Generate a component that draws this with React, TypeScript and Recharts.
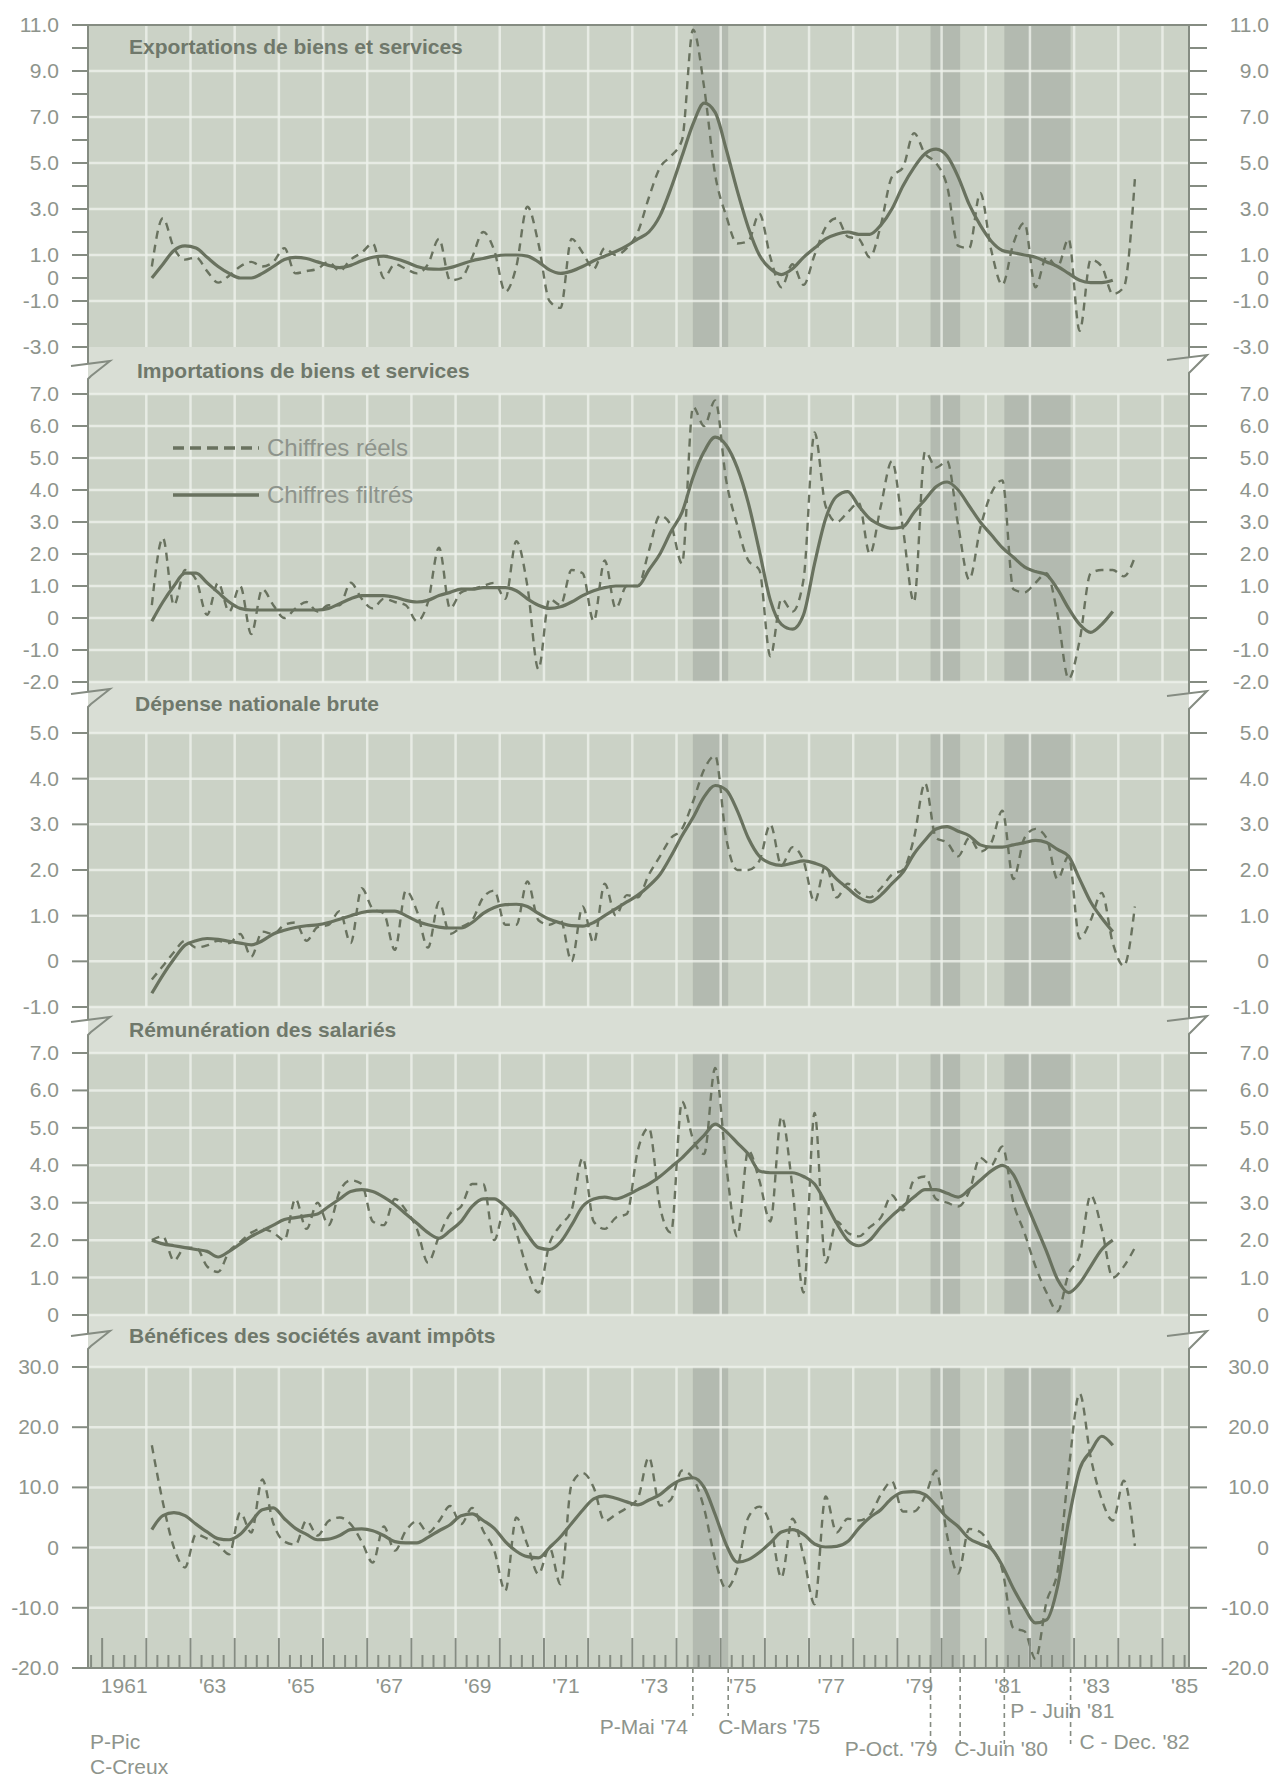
import React from "react";
import { LineChart, Line, XAxis, YAxis, ReferenceArea, ReferenceLine } from "recharts";

const FONT = "'Liberation Sans', Arial, Helvetica, sans-serif";
const INK = "#69725f";
const AXIS = "#858c82";
const LABEL = "#8e948c";
const TITLE = "#6f786b";
const PANEL_BG = "#cbd2c6";
const BAND_BG = "#d9ded5";
const GRID = "#eef1eb";
const SHADE = "#afb6ab";

const W = 1278;
const H = 1787;
const PLOT_L = 88;
const PLOT_R = 1189;
const X_MIN = 1960.68;
const X_MAX = 1985.6;
const FIRST_QUARTER = 1962.125;

// ---- series, one value per quarter from 1962 Q1 ----
const exportsReal = [
  0.5, 2.6, 1.3, 0.8, 0.9, 0.3, -0.2, 0.1, 0.5, 0.7,
  0.5, 0.7, 1.3, 0.2, 0.3, 0.4, 0.7, 0.3, 0.8, 1.1,
  1.5, 0.0, 0.6, 0.4, 0.2, 0.6, 1.7, -0.1, 0.0, 0.9,
  2.0, 1.2, -0.6, 0.5, 3.1, 1.5, -1.0, -1.3, 1.7, 1.1,
  0.4, 1.3, 1.0, 1.3, 2.0, 3.5, 4.8, 5.3, 6.0, 10.8,
  8.3, 4.5, 2.7, 1.5, 1.6, 2.8, 0.9, -0.4, 0.6, -0.3,
  1.0, 2.2, 2.6, 1.8, 1.7, 0.9, 2.3, 4.4, 4.8, 6.3,
  5.4, 5.0, 4.0, 1.4, 1.3, 3.7, 1.2, -0.3, 1.5, 2.4,
  -0.4, 0.9, 0.5, 1.7, -2.3, 0.8, 0.5, -0.7, -0.4, 4.3,
];
const exportsFilt = [
  0.0, 0.6, 1.2, 1.4, 1.3, 0.9, 0.5, 0.2, 0.0, 0.0,
  0.2, 0.5, 0.8, 0.9, 0.85, 0.7, 0.55, 0.45, 0.55, 0.75,
  0.9, 0.95, 0.85, 0.7, 0.5, 0.4, 0.38, 0.45, 0.6, 0.75,
  0.85, 0.95, 1.0, 1.0, 0.95, 0.7, 0.35, 0.2, 0.3, 0.5,
  0.75, 0.95, 1.15, 1.4, 1.7, 2.0, 2.7, 3.9, 5.3, 6.7,
  7.6, 7.2, 5.6, 3.8, 2.2, 1.0, 0.4, 0.15, 0.4, 0.9,
  1.3, 1.7, 1.9, 2.0, 1.9, 1.9, 2.3, 3.0, 4.0, 4.8,
  5.4, 5.6, 5.3, 4.4, 3.2, 2.3, 1.6, 1.2, 1.1, 1.0,
  0.9, 0.7, 0.5, 0.2, -0.1, -0.2, -0.2, -0.1,
];

const importsReal = [
  0.4, 2.5, 0.4, 1.5, 1.2, 0.1, 1.1, 0.2, 1.0, -0.5,
  0.9, 0.4, 0.0, 0.3, 0.5, 0.2, 0.4, 0.4, 1.1, 0.6,
  0.3, 0.6, 0.5, 0.4, -0.1, 0.5, 2.2, 0.3, 0.8, 0.9,
  1.0, 1.1, 0.6, 2.4, 1.0, -1.6, 0.6, 0.4, 1.5, 1.4,
  -0.1, 1.8, 0.3, 1.0, 1.0, 2.1, 3.2, 2.9, 1.7, 6.6,
  6.0, 6.8, 4.3, 2.9, 1.8, 1.5, -1.2, 0.6, 0.2, 1.2,
  5.8, 3.5, 3.0, 3.3, 3.6, 2.0, 3.5, 4.9, 2.8, 0.5,
  5.2, 4.7, 4.9, 2.9, 1.2, 2.8, 3.9, 4.3, 0.9, 0.8,
  1.1, 1.4, 0.1, -1.9, -0.7, 1.4, 1.5, 1.5, 1.3, 1.9,
];
const importsFilt = [
  -0.1, 0.5, 1.0, 1.4, 1.4, 1.1, 0.8, 0.5, 0.3, 0.25,
  0.25, 0.25, 0.25, 0.25, 0.25, 0.25, 0.3, 0.45, 0.6, 0.7,
  0.7, 0.7, 0.65, 0.55, 0.5, 0.55, 0.7, 0.8, 0.9, 0.9,
  0.95, 0.95, 0.95, 0.85, 0.6, 0.4, 0.3, 0.35, 0.5, 0.7,
  0.85, 0.95, 1.0, 1.0, 1.0, 1.5, 2.0, 2.7, 3.3, 4.4,
  5.2, 5.65, 5.4, 4.7, 3.6, 2.1, 0.55, -0.2, -0.35, 0.1,
  1.7, 3.1, 3.8, 3.95, 3.5, 3.1, 2.9, 2.8, 2.85, 3.3,
  3.7, 4.1, 4.25, 4.0, 3.5, 3.0, 2.6, 2.2, 1.9, 1.6,
  1.45, 1.35, 0.9, 0.3, -0.2, -0.45, -0.2, 0.2,
];

const dnbReal = [
  -0.4, -0.1, 0.2, 0.45, 0.3, 0.35, 0.45, 0.4, 0.6, 0.1,
  0.65, 0.6, 0.8, 0.85, 0.45, 0.75, 0.8, 1.1, 0.4, 1.6,
  1.15, 1.05, 0.25, 1.55, 1.1, 0.3, 1.3, 0.6, 0.75, 0.9,
  1.4, 1.55, 0.8, 0.8, 1.75, 0.9, 0.8, 0.9, 0.0, 1.2,
  0.4, 1.7, 1.0, 1.45, 1.4, 1.9, 2.3, 2.7, 2.9, 3.5,
  4.2, 4.5, 2.7, 2.0, 2.0, 2.2, 3.0, 2.1, 2.5, 2.2,
  1.3, 2.1, 1.4, 1.7, 1.5, 1.4, 1.6, 1.9, 2.0, 2.7,
  3.9, 2.7, 2.6, 2.3, 2.7, 2.4, 2.6, 3.3, 1.8, 2.7,
  2.9, 2.7, 1.8, 2.3, 0.5, 0.9, 1.5, 0.4, -0.1, 1.2,
];
const dnbFilt = [
  -0.7, -0.3, 0.05, 0.35, 0.45, 0.5, 0.48, 0.44, 0.4, 0.36,
  0.45, 0.6, 0.68, 0.74, 0.78, 0.8, 0.85, 0.92, 1.0, 1.07,
  1.1, 1.1, 1.1, 1.0, 0.88, 0.8, 0.75, 0.73, 0.73, 0.85,
  1.05, 1.18, 1.24, 1.25, 1.2, 1.05, 0.92, 0.84, 0.78, 0.77,
  0.85, 1.0, 1.15, 1.3, 1.45, 1.65, 1.9, 2.3, 2.75, 3.15,
  3.6, 3.85, 3.75, 3.3, 2.7, 2.3, 2.15, 2.1, 2.15, 2.2,
  2.15, 2.05, 1.8, 1.6, 1.4, 1.3, 1.45, 1.7, 1.95, 2.35,
  2.65, 2.9, 2.95, 2.85, 2.75, 2.55, 2.5, 2.5, 2.55, 2.6,
  2.65, 2.6, 2.45, 2.3, 1.8, 1.3, 0.95, 0.65,
];

const remReal = [
  2.0, 2.1, 1.45, 1.8, 1.8, 1.3, 1.15, 1.7, 1.95, 2.2,
  2.3, 2.2, 2.0, 3.1, 2.3, 3.0, 2.4, 3.3, 3.6, 3.5,
  2.5, 2.4, 3.1, 2.8, 2.3, 1.4, 2.1, 2.7, 2.9, 3.5,
  3.5, 2.0, 2.9, 2.2, 1.2, 0.6, 1.9, 2.4, 2.8, 4.2,
  2.5, 2.3, 2.6, 2.7, 4.4, 5.0, 2.9, 2.2, 5.7, 4.7,
  4.3, 6.6, 4.0, 2.1, 4.4, 3.6, 2.5, 5.3, 3.4, 0.6,
  5.4, 1.4, 2.5, 2.2, 2.1, 2.35, 2.6, 3.2, 2.8, 3.6,
  3.7, 3.1, 3.0, 2.9, 3.3, 4.2, 4.0, 4.5, 3.0, 2.2,
  1.3, 0.6, 0.1, 1.1, 1.6, 3.2, 2.3, 1.0, 1.3, 1.8,
];
const remFilt = [
  2.0, 1.9, 1.85, 1.8, 1.75, 1.7, 1.55, 1.7, 1.9, 2.1,
  2.25, 2.4, 2.55, 2.6, 2.65, 2.7, 2.9, 3.1, 3.3, 3.35,
  3.3, 3.15, 2.95, 2.7, 2.45, 2.2, 2.05, 2.25, 2.5, 2.9,
  3.1, 3.1, 2.9, 2.6, 2.15, 1.8, 1.75, 1.95, 2.4, 2.9,
  3.1, 3.15, 3.1, 3.2, 3.35, 3.5, 3.7, 3.95, 4.2, 4.5,
  4.8, 5.1, 4.9, 4.6, 4.3, 3.85, 3.8, 3.8, 3.8, 3.7,
  3.5, 3.0, 2.45, 2.0, 1.85, 2.0, 2.35, 2.65, 2.9, 3.15,
  3.35, 3.35, 3.25, 3.15, 3.35, 3.6, 3.85, 4.0, 3.75, 3.1,
  2.4, 1.7, 0.95, 0.6, 0.85, 1.3, 1.75, 2.0,
];

const benReal = [
  17.0, 7.5, 0.0, -3.3, 2.2, 1.5, 0.5, -1.1, 5.8, 2.5,
  11.3, 4.0, 1.0, 0.5, 4.5, 2.0, 4.4, 5.0, 3.9, 1.0,
  -2.5, 3.5, -0.5, 2.8, 4.4, 2.5, 4.4, 6.9, 3.9, 6.6,
  2.8, -0.5, -7.2, 5.0, 0.5, -4.4, 0.0, -6.1, 10.5, 12.4,
  10.0, 4.4, 5.5, 6.6, 8.2, 15.0, 7.0, 8.0, 12.8, 11.5,
  6.5, -2.0, -6.8, -3.5, 5.0, 6.8, 3.7, -5.0, 4.8, -1.4,
  -9.4, 8.5, 2.5, 4.8, 4.5, 5.4, 8.8, 11.0, 6.0, 6.0,
  8.5, 12.8, 2.0, -4.3, 3.1, 2.6, 0.0, -3.7, -13.4, -13.9,
  -18.5, -9.0, -4.0, 12.8, 25.6, 15.0, 8.0, 4.5, 11.1, 0.3,
];
const benFilt = [
  3.0, 5.3, 5.8, 5.3, 3.9, 2.6, 1.5, 1.3, 2.2, 4.3,
  6.3, 6.6, 4.8, 3.2, 2.2, 1.3, 1.4, 2.0, 3.0, 3.1,
  2.8, 2.0, 1.0, 0.8, 0.8, 1.7, 2.8, 3.8, 5.3, 5.6,
  4.5, 3.2, 1.0, -0.6, -1.5, -1.7, 0.0, 1.8, 4.0, 6.2,
  8.1, 8.6, 8.2, 7.6, 7.1, 7.9, 8.8, 10.3, 11.3, 11.6,
  10.0, 5.5, 0.5, -2.4, -2.0, -0.8, 0.8, 2.6, 3.0, 2.2,
  0.6, 0.1, 0.2, 1.0, 3.2, 5.0, 6.3, 8.2, 9.2, 9.3,
  8.8, 7.0, 5.0, 3.5, 1.5, 0.6, -0.2, -3.0, -6.8, -10.0,
  -12.5, -12.0, -6.5, 4.5, 13.0, 16.0, 18.5, 17.0,
];

// ---- axes, labels, dates ----
const titles = [
  "Exportations de biens et services",
  "Importations de biens et services",
  "Dépense nationale brute",
  "Rémunération des salariés",
  "Bénéfices des sociétés avant impôts",
];
const ticksExp = [11, 10, 9, 8, 7, 6, 5, 4, 3, 2, 1, 0, -1, -2, -3];
const labelsExp = [11, 9, 7, 5, 3, 1, 0, -1, -3];
const ticksImp = [7, 6, 5, 4, 3, 2, 1, 0, -1, -2];
const ticksDnb = [5, 4, 3, 2, 1, 0, -1];
const ticksRem = [7, 6, 5, 4, 3, 2, 1, 0];
const ticksBen = [30, 20, 10, 0, -10, -20];
const gridExp = [9, 7, 5, 3, 1, -1];
const gridBen = [30, 20, 10, 0, -10];

const gridYears = [1962, 1963, 1964, 1965, 1966, 1967, 1968, 1969, 1970, 1971, 1972, 1973,
  1974, 1975, 1976, 1977, 1978, 1979, 1980, 1981, 1982, 1983, 1984, 1985];
const labelYears = [1961, 1963, 1965, 1967, 1969, 1971, 1973, 1975, 1977, 1979, 1981, 1983, 1985];
const yearLabels = ["1961", "'63", "'65", "'67", "'69", "'71", "'73", "'75", "'77", "'79", "'81", "'83", "'85"];

const recessions = [
  [1974.37, 1975.17],
  [1979.75, 1980.42],
  [1981.42, 1982.92],
];
const turningDates = [1974.37, 1975.17, 1979.75, 1980.42, 1981.42, 1982.92];
const turningLabels = ["P-Mai '74", "C-Mars '75", "P-Oct. '79", "C-Juin '80", "P - Juin '81", "C - Dec. '82"];
// how each turning-point note hangs under the axis
const turningStyle = [
  { len: 48, dx: -5, dy: 66, anchor: "end" },
  { len: 48, dx: -10, dy: 66, anchor: "start" },
  { len: 76, dx: 7, dy: 88, anchor: "end" },
  { len: 76, dx: -6, dy: 88, anchor: "start" },
  { len: 76, dx: 6, dy: 50, anchor: "start" },
  { len: 76, dx: 9, dy: 81, anchor: "start" },
];

const quarterDates = Array.from({ length: 90 }, (_, i) => FIRST_QUARTER + i * 0.25);
const quarterTicks = Array.from({ length: 100 }, (_, k) => 1960.75 + k * 0.25);
const bottomTicks = Array.from(new Set([...quarterTicks, ...turningDates]));

// page position of each panel (top value, bottom value)
const layout = [
  { top: 25, bottom: 347 },
  { top: 394, bottom: 682 },
  { top: 733, bottom: 1007 },
  { top: 1053, bottom: 1315 },
  { top: 1367, bottom: 1668 },
];
const titleSpots = [
  { x: 129, y: 54 },
  { x: 137, y: 378 },
  { x: 135, y: 711 },
  { x: 129, y: 1037 },
  { x: 129, y: 1343 },
];
const breaksLeft = [370, 698, 1026, 1340];
const breaksRight = [364, 700, 1025, 1340];

const panels = [
  { real: exportsReal, filt: exportsFilt, domain: [-3, 11], ticks: ticksExp, labelled: labelsExp, grid: gridExp },
  { real: importsReal, filt: importsFilt, domain: [-2, 7], ticks: ticksImp, labelled: ticksImp, grid: ticksImp },
  { real: dnbReal, filt: dnbFilt, domain: [-1, 5], ticks: ticksDnb, labelled: ticksDnb, grid: ticksDnb },
  { real: remReal, filt: remFilt, domain: [0, 7], ticks: ticksRem, labelled: ticksRem, grid: ticksRem },
  { real: benReal, filt: benFilt, domain: [-20, 30], ticks: ticksBen, labelled: ticksBen, grid: gridBen },
];

const fmt = (v: number) => (v === 0 ? "0" : v.toFixed(1));
const same = (a: number, b: number) => Math.abs(a - b) < 1e-6;

const textProps = { fontFamily: FONT, fontSize: 21, fill: LABEL };

// eslint-disable-next-line @typescript-eslint/no-explicit-any
function SideTick(props: any) {
  const { y, payload, labelled, side } = props;
  const v = payload.value;
  const left = side === "left";
  return (
    <g>
      <line x1={left ? PLOT_L - 16 : PLOT_R} x2={left ? PLOT_L : PLOT_R + 18} y1={y} y2={y} stroke={AXIS} strokeWidth={2} />
      {labelled.includes(v) && (
        <text x={left ? 59 : 1269} y={y} dy={7} textAnchor="end" {...textProps}>
          {fmt(v)}
        </text>
      )}
    </g>
  );
}

// eslint-disable-next-line @typescript-eslint/no-explicit-any
function BottomTick(props: any) {
  const { x, y, payload } = props;
  const v = payload.value;
  const parts: React.ReactNode[] = [];
  const onQuarter = same(v * 4, Math.round(v * 4));
  if (onQuarter) {
    const full = same(v, Math.round(v));
    parts.push(<line key="q" x1={x} x2={x} y1={y} y2={y - (full ? 30 : 13)} stroke={AXIS} strokeWidth={2} />);
    const yi = labelYears.findIndex((yr) => same(yr + 0.5, v));
    if (yi >= 0) {
      parts.push(
        <text key="l" x={x} y={y + 25} textAnchor="middle" {...textProps}>
          {yearLabels[yi]}
        </text>
      );
    }
  }
  const ti = turningDates.findIndex((d) => same(d, v));
  if (ti >= 0) {
    const s = turningStyle[ti];
    parts.push(
      <line key="t" x1={x} x2={x} y1={y} y2={y + s.len} stroke={AXIS} strokeWidth={1.6} strokeDasharray="5 4" />,
      <text key="tl" x={x + s.dx} y={y + s.dy} textAnchor={s.anchor} {...textProps}>
        {turningLabels[ti]}
      </text>
    );
  }
  return <g>{parts}</g>;
}

const PAD = 15;
const XAXIS_H = 110;

function Panel({ index }: { index: number }) {
  const p = panels[index];
  const { top, bottom } = layout[index];
  const isLast = index === panels.length - 1;
  const height = bottom - top + PAD + (isLast ? XAXIS_H : PAD);
  const data = quarterDates.map((t, i) => ({
    t,
    real: p.real[i] ?? null,
    filt: p.filt[i] ?? null,
  }));
  return (
    <div style={{ position: "absolute", left: 0, top: top - PAD }}>
      <LineChart width={W} height={height} data={data} margin={{ top: PAD, right: 9, bottom: isLast ? 0 : PAD, left: 8 }}>
        {recessions.map(([a, b]) => (
          <ReferenceArea key={a} yAxisId="left" x1={a} x2={b} fill={SHADE} fillOpacity={0.85} stroke="none" />
        ))}
        {gridYears.map((yr) => (
          <ReferenceLine key={"x" + yr} yAxisId="left" x={yr} stroke={GRID} strokeWidth={2.5} strokeOpacity={0.8} />
        ))}
        {p.grid.map((g) => (
          <ReferenceLine key={"y" + g} yAxisId="left" y={g} stroke={GRID} strokeWidth={2.5} strokeOpacity={0.8} />
        ))}
        {index === 0 && <ReferenceLine yAxisId="left" y={11} stroke={AXIS} strokeWidth={2} />}
        {isLast ? (
          <XAxis
            dataKey="t"
            type="number"
            domain={[X_MIN, X_MAX]}
            allowDataOverflow
            ticks={bottomTicks}
            interval={0}
            tickLine={false}
            tickSize={0}
            tickMargin={0}
            height={XAXIS_H}
            axisLine={{ stroke: AXIS, strokeWidth: 2 }}
            tick={(tp) => <BottomTick {...tp} />}
          />
        ) : (
          <XAxis dataKey="t" type="number" domain={[X_MIN, X_MAX]} allowDataOverflow hide />
        )}
        <YAxis
          yAxisId="left"
          domain={p.domain}
          ticks={p.ticks}
          allowDataOverflow
          interval={0}
          width={80}
          tickLine={false}
          axisLine={{ stroke: AXIS, strokeWidth: 2 }}
          tick={(tp) => <SideTick {...tp} labelled={p.labelled} side="left" />}
        />
        <YAxis
          yAxisId="right"
          orientation="right"
          domain={p.domain}
          ticks={p.ticks}
          allowDataOverflow
          interval={0}
          width={80}
          tickLine={false}
          axisLine={{ stroke: AXIS, strokeWidth: 2 }}
          tick={(tp) => <SideTick {...tp} labelled={p.labelled} side="right" />}
        />
        <Line
          yAxisId="right"
          dataKey="real"
          type="monotone"
          stroke={INK}
          strokeWidth={2.4}
          strokeDasharray="8 6"
          dot={false}
          activeDot={false}
          isAnimationActive={false}
        />
        <Line
          yAxisId="left"
          dataKey="filt"
          type="monotone"
          stroke={INK}
          strokeWidth={3.2}
          dot={false}
          activeDot={false}
          isAnimationActive={false}
        />
      </LineChart>
    </div>
  );
}

function Overlay() {
  const paths: string[] = [];
  for (let k = 0; k < layout.length - 1; k++) {
    const prev = layout[k].bottom;
    const next = layout[k + 1].top;
    const yl = breaksLeft[k];
    const yr = breaksRight[k];
    paths.push(
      `M ${PLOT_L} ${prev} L ${PLOT_L} ${yl - 6} M ${PLOT_L - 17} ${yl - 4} L ${PLOT_L + 22} ${yl - 9} L ${PLOT_L + 3} ${yl + 6} L ${PLOT_L} ${yl + 9} L ${PLOT_L} ${next}`
    );
    paths.push(
      `M ${PLOT_R} ${prev} L ${PLOT_R} ${yr - 6} M ${PLOT_R - 22} ${yr - 4} L ${PLOT_R + 18} ${yr - 9} L ${PLOT_R + 3} ${yr + 6} L ${PLOT_R} ${yr + 9} L ${PLOT_R} ${next}`
    );
  }
  const legendText = { fontFamily: FONT, fontSize: 24, fill: LABEL };
  return (
    <svg width={W} height={H} style={{ position: "absolute", left: 0, top: 0, pointerEvents: "none" }}>
      {paths.map((d, i) => (
        <path key={i} d={d} fill="none" stroke={AXIS} strokeWidth={2} />
      ))}
      {titles.map((t, i) => (
        <text key={t} x={titleSpots[i].x} y={titleSpots[i].y} fontFamily={FONT} fontSize={21} fontWeight="bold" fill={TITLE}>
          {t}
        </text>
      ))}
      <line x1={173} x2={259} y1={448} y2={448} stroke={INK} strokeWidth={3.5} strokeDasharray="11 6" />
      <text x={267} y={456} {...legendText}>Chiffres réels</text>
      <line x1={173} x2={259} y1={495} y2={495} stroke={INK} strokeWidth={3.5} />
      <text x={267} y={503} {...legendText}>Chiffres filtrés</text>
      <text x={90} y={1749} {...textProps}>P-Pic</text>
      <text x={90} y={1774} {...textProps}>C-Creux</text>
    </svg>
  );
}

export default function App() {
  return (
    <div style={{ position: "absolute", left: 0, top: 0, width: W, height: H, background: "#ffffff", overflow: "hidden" }}>
      <div
        style={{
          position: "absolute",
          left: PLOT_L,
          top: layout[0].top,
          width: PLOT_R - PLOT_L,
          height: layout[4].bottom - layout[0].top,
          background: BAND_BG,
        }}
      />
      {layout.map((l, i) => (
        <div
          key={"bg" + i}
          style={{
            position: "absolute",
            left: PLOT_L,
            top: l.top,
            width: PLOT_R - PLOT_L,
            height: l.bottom - l.top,
            background: PANEL_BG,
          }}
        />
      ))}
      {panels.map((_, i) => (
        <Panel key={i} index={i} />
      ))}
      <Overlay />
    </div>
  );
}
